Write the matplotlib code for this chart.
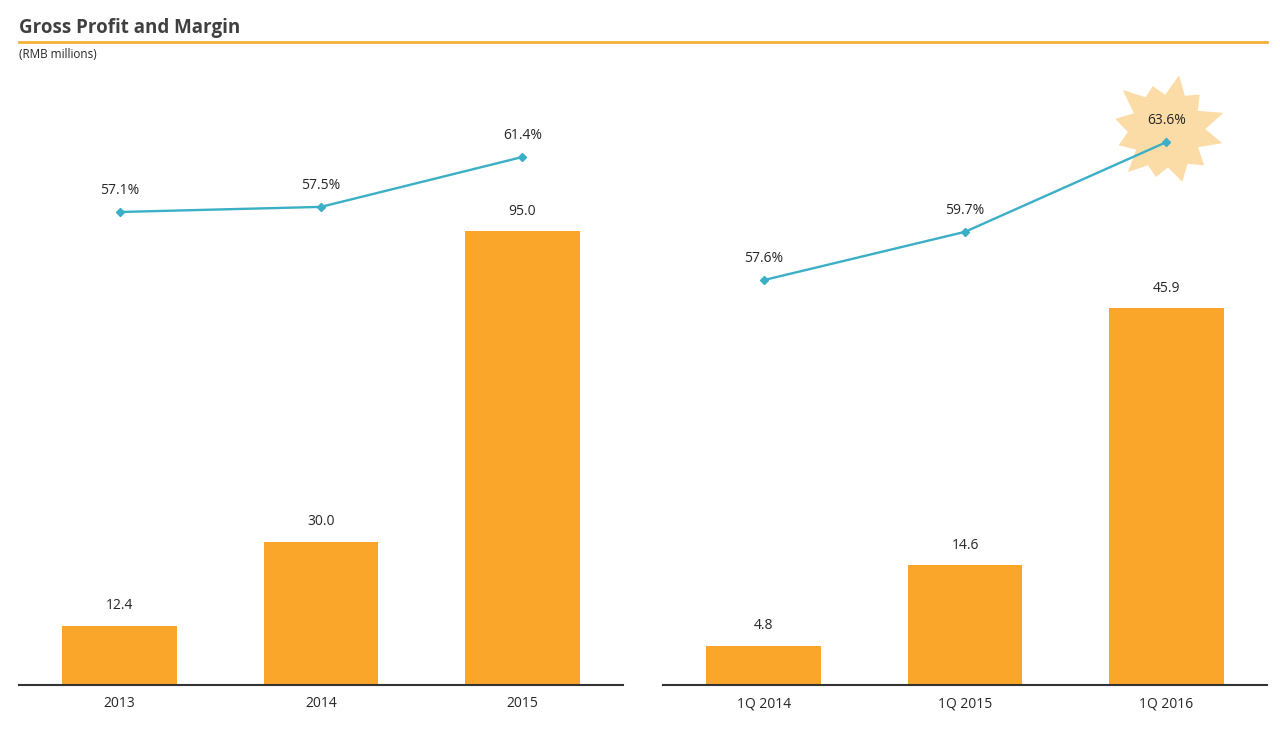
import numpy as np
import matplotlib.pyplot as plt
from matplotlib.path import Path
import matplotlib.transforms as mtransforms

plt.rcParams['font.family'] = ['Open Sans', 'DejaVu Sans']

# Datos
years = ["2013", "2014", "2015"]
profit_year = [12.4, 30.0, 95.0]
margin_year = [57.1, 57.5, 61.4]

quarters = ["1Q 2014", "1Q 2015", "1Q 2016"]
profit_q = [4.8, 14.6, 45.9]
margin_q = [57.6, 59.7, 63.6]

bar_color = "#F9A62B"
line_color = "#3AAFC6"
text_color = "#262626"

W, H = 1280, 731
fig = plt.figure(figsize=(W / 100, H / 100), dpi=100)


def px_axes(x0, x1, ytop, ybot):
    return fig.add_axes([x0 / W, 1 - ybot / H, (x1 - x0) / W, (ybot - ytop) / H])


def panel(ax, cats, bars, margins, bar_top, m_lim):
    x = np.arange(len(cats))
    ax.bar(x, bars, width=0.57, color=bar_color, zorder=2)
    ax.set_xlim(-0.5, len(cats) - 0.5)
    ax.set_ylim(0, bar_top)
    for xi, v in zip(x, bars):
        ax.annotate(f"{v:.1f}", (xi, v), xytext=(0, 9), textcoords="offset points",
                    ha="center", va="bottom", fontsize=10, color=text_color)
    ax.set_xticks(x)
    ax.set_xticklabels(cats, fontsize=10, color=text_color)
    ax.tick_params(axis="x", length=0, pad=8)
    ax.set_yticks([])
    for s in ["top", "left", "right"]:
        ax.spines[s].set_visible(False)
    ax.spines["bottom"].set_color("#333333")
    ax.spines["bottom"].set_linewidth(1.5)

    ax2 = ax.twinx()
    ax2.plot(x, margins, color=line_color, lw=1.7, marker="D", markersize=4.5, zorder=4)
    ax2.set_ylim(*m_lim)
    ax2.set_yticks([])
    for s in ax2.spines.values():
        s.set_visible(False)
    for xi, m in zip(x, margins):
        ax2.annotate(f"{m:.1f}%", (xi, m), xytext=(0, 10), textcoords="offset points",
                     ha="center", va="bottom", fontsize=10, color=text_color, zorder=6)
    return ax2


ax_l = px_axes(19, 623, 80, 685)
ax_r = px_axes(663, 1267, 80, 685)

panel(ax_l, years, profit_year, margin_year, 126.7, (20.12, 67.42))
ax_r2 = panel(ax_r, quarters, profit_q, margin_q, 73.7, (40.0, 66.3))

# Estrella detrás del último margen trimestral
radii = [1.0, 0.62, 0.82, 0.66, 0.95, 0.6, 0.78, 0.66, 1.0, 0.62, 0.88, 0.65,
         0.84, 0.6, 0.95, 0.66, 0.8, 0.62, 0.9, 0.66, 0.86, 0.6, 0.96, 0.65]
ang = np.linspace(0, 2 * np.pi, len(radii), endpoint=False) + 0.3
verts = np.column_stack([np.cos(ang) * radii, np.sin(ang) * radii])
verts = np.vstack([verts, verts[:1]])
codes = [Path.MOVETO] + [Path.LINETO] * (len(verts) - 2) + [Path.CLOSEPOLY]
star = Path(verts, codes)
tr = mtransforms.offset_copy(ax_r2.transData, fig=fig, x=0, y=12, units="dots")
ax_r2.plot([2], [margin_q[2]], marker=star, markersize=82, color="#FCDCA6",
           markeredgewidth=0, transform=tr, zorder=1, clip_on=False)

# Título
fig.text(19 / W, 1 - 28 / H, "Gross Profit and Margin", fontsize=13.5, fontweight="bold",
         color="#404040", va="center", ha="left")
fig.add_artist(plt.Line2D([19 / W, 1267 / W], [1 - 42 / H, 1 - 42 / H],
                          color="#F3B13A", lw=2))
fig.text(19 / W, 1 - 54 / H, "(RMB millions)", fontsize=8.5, color=text_color,
         va="center", ha="left")

fig.savefig("out.png", dpi=100)
